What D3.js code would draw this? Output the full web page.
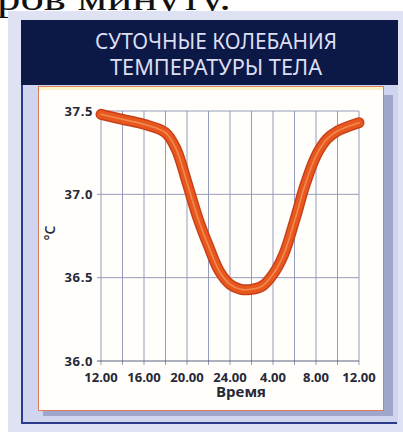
<!DOCTYPE html>
<html><head><meta charset="utf-8">
<script src="https://cdn.jsdelivr.net/npm/d3@7"></script>
<style>html,body{margin:0;padding:0;background:#fff;overflow:hidden}</style>
</head><body>
<svg id="c" width="403" height="432"></svg>
<script>
// ---- data ----
const titleLines = ["СУТОЧНЫЕ КОЛЕБАНИЯ", "ТЕМПЕРАТУРЫ ТЕЛА"];
const topText = "ров минуту.";
const xLabel = "Время";
const yLabel = "°C";
const hours = [0, 2, 4, 6, 7, 8, 9, 10, 11, 12, 13, 14, 15, 16, 17, 18, 19, 20, 21, 22, 24];
const temps = [37.48, 37.45, 37.42, 37.37, 37.27, 37.07, 36.86, 36.69, 36.54, 36.46, 36.43, 36.43, 36.45, 36.52, 36.64, 36.84, 37.06, 37.23, 37.33, 37.38, 37.43];
const xTickHours = [0, 4, 8, 12, 16, 20, 24];
const xTickLabels = ["12.00", "16.00", "20.00", "24.00", "4.00", "8.00", "12.00"];
const xGridHours = [0, 2, 4, 6, 8, 10, 12, 14, 16, 18, 20, 22, 24];
const yTicks = [36.0, 36.5, 37.0, 37.5];

const svg = d3.select("#c");

// page text cut at top
svg.append("text").attr("x", -3).attr("y", 10)
  .attr("font-family", "Liberation Serif, serif").attr("font-size", 35)
  .attr("textLength", 234).attr("lengthAdjust", "spacingAndGlyphs")
  .attr("fill", "#111").text(topText);

// card background
svg.append("rect").attr("x", 8).attr("y", 11).attr("width", 400).attr("height", 425).attr("fill", "#dfe2f2");
svg.append("rect").attr("x", 21).attr("y", 20).attr("width", 377).attr("height", 404).attr("fill", "#cfd5ee");
svg.append("line").attr("x1", 22).attr("x2", 22).attr("y1", 20).attr("y2", 424).attr("stroke", "#2c3c8c").attr("stroke-width", 2);
svg.append("line").attr("x1", 21).attr("x2", 397).attr("y1", 423).attr("y2", 423).attr("stroke", "#2c3c8c").attr("stroke-width", 2);
svg.append("rect").attr("x", 21).attr("y", 20).attr("width", 377).attr("height", 65).attr("fill", "#0c1846");

// panel shadow + white panel
svg.append("rect").attr("x", 43).attr("y", 95).attr("width", 350).attr("height", 321).attr("fill", "#a0a5cc");
svg.append("rect").attr("x", 38.5).attr("y", 86.5).attr("width", 345).attr("height", 324)
  .attr("fill", "#fffefa").attr("stroke", "#e07a5c").attr("stroke-width", 1);
svg.append("rect").attr("x", 39).attr("y", 87).attr("width", 344).attr("height", 3).attr("fill", "#fbf3c8");

// title
const tl = svg.append("g").attr("font-family", "Noto Sans, sans-serif").attr("font-weight", 400)
  .attr("fill", "#dcdef2").attr("font-size", 22.5).attr("text-anchor", "middle");
tl.append("text").attr("x", 216).attr("y", 48.5).attr("textLength", 242).attr("lengthAdjust", "spacingAndGlyphs").text(titleLines[0]);
tl.append("text").attr("x", 216).attr("y", 74.5).attr("textLength", 212).attr("lengthAdjust", "spacingAndGlyphs").text(titleLines[1]);

// scales
const x = d3.scaleLinear().domain([0, 24]).range([101, 359]);
const y = d3.scaleLinear().domain([36, 37.5]).range([361, 111]);

// grid
const grid = svg.append("g").attr("stroke", "#8a92b4").attr("stroke-width", 0.9);
grid.selectAll("line.v").data(xGridHours).join("line").attr("class", "v")
  .attr("x1", d => x(d)).attr("x2", d => x(d)).attr("y1", y(37.5)).attr("y2", y(36) + 4);
grid.selectAll("line.h").data(yTicks).join("line").attr("class", "h")
  .attr("x1", x(0) - 4).attr("x2", x(24)).attr("y1", d => y(d)).attr("y2", d => y(d))
  .attr("stroke", d => d === 36 ? "#4a5272" : "#8a92b4");

// y tick labels
svg.append("g").attr("font-family", "Open Sans, sans-serif").attr("font-weight", 700)
  .attr("font-size", 13).attr("fill", "#262838").attr("text-anchor", "end")
  .selectAll("text").data(yTicks).join("text")
  .attr("x", 93).attr("y", d => y(d) + 4.5).attr("letter-spacing", 0.6)
  .text(d => d.toFixed(1));

// x tick labels
svg.append("g").attr("font-family", "Open Sans, sans-serif").attr("font-weight", 700)
  .attr("font-size", 13).attr("fill", "#262838").attr("text-anchor", "middle")
  .selectAll("text").data(xTickHours).join("text")
  .attr("x", d => x(d)).attr("y", 382)
  .text((d, i) => xTickLabels[i]);

// axis titles
svg.append("text").attr("x", 241).attr("y", 397).attr("text-anchor", "middle")
  .attr("font-family", "Open Sans, sans-serif").attr("font-weight", 700).attr("font-size", 15)
  .attr("fill", "#262838").text(xLabel);
svg.append("text").attr("transform", "translate(55,233) rotate(-90)").attr("text-anchor", "middle")
  .attr("font-family", "Open Sans, sans-serif").attr("font-size", 14).attr("font-weight", 600)
  .attr("fill", "#262838").text(yLabel);

// curve
const pts = hours.map((h, i) => [h, temps[i]]);
const line = d3.line().x(d => x(d[0])).y(d => y(d[1])).curve(d3.curveCatmullRom.alpha(0.5));
const cg = svg.append("g").attr("fill", "none").attr("stroke-linecap", "round").attr("stroke-linejoin", "round");
cg.append("path").attr("d", line(pts)).attr("stroke", "#c8401a").attr("stroke-width", 11);
cg.append("path").attr("d", line(pts)).attr("stroke", "#e8581e").attr("stroke-width", 8);
cg.append("path").attr("d", line(pts)).attr("stroke", "#f08a4e").attr("stroke-width", 1.6);
</script>
</body></html>
